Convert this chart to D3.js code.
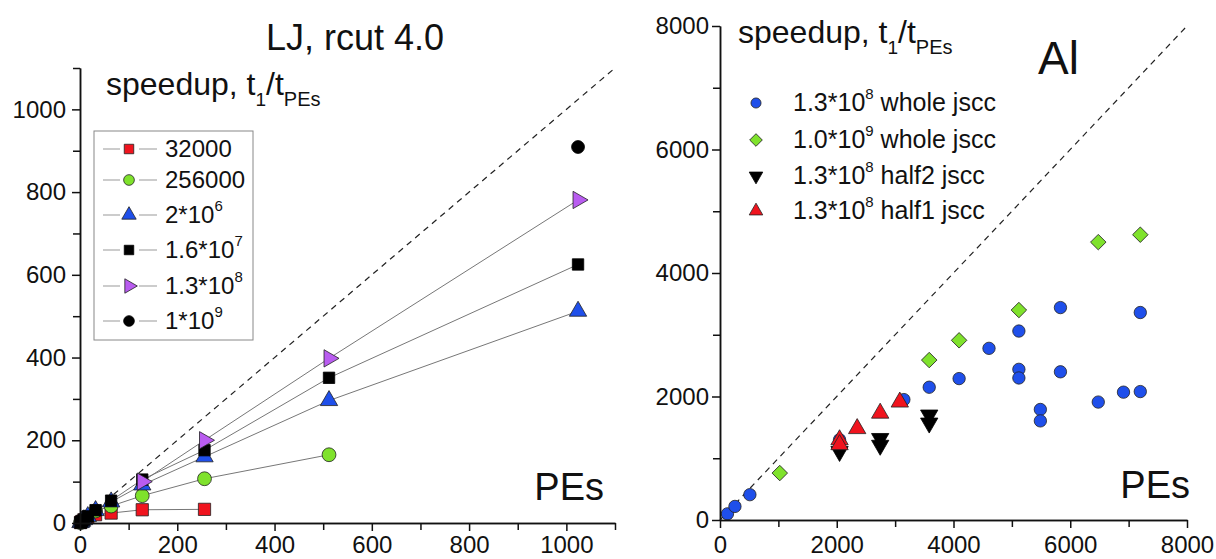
<!DOCTYPE html>
<html>
<head>
<meta charset="utf-8">
<script src="https://cdn.jsdelivr.net/npm/d3@7"></script>
<style>
  body { margin: 0; background: #fff; }
  svg { display: block; }
  text { font-family: Arial, "Liberation Sans", sans-serif; fill: #111; }
</style>
</head>
<body>
<svg id="chart" width="1216" height="559"></svg>
<script>
// ---------- LJ panel data (speedup vs number of PEs) ----------
const ljPEs      = [1, 2, 4, 8, 16, 32, 64, 128, 256, 512, 1024];
const lj32000    = [1, 2, 3.9, 7.6, 14, 20, 24, 32, 33];
const lj256000   = [1, 2, 4, 7.8, 15, 29, 41, 66, 107, 165];
const lj2e6      = [1, 2, 4, 8, 15.5, 30, 51, 92, 160, 296, 512];
const lj16e7     = [1, 2, 4, 8, 16, 31, 54, 105, 176, 351, 625];
const lj13e8PEs  = [128, 256, 512, 1024];
const lj13e8     = [100, 200, 398, 781];
const lj1e9PEs   = [1024];
const lj1e9      = [909];
const ljLabels   = [["32000", ""], ["256000", ""], ["2*10", "6"], ["1.6*10", "7"], ["1.3*10", "8"], ["1*10", "9"]];
const ljTicks    = [0, 200, 400, 600, 800, 1000];
const ljMinor    = [100, 300, 500, 700, 900, 1100];

// ---------- Al panel data ----------
const alWhole13e8PEs = [128, 256, 512, 2048, 3150, 3584, 4096, 4608, 5120, 5120, 5120, 5488, 5488, 5832, 5832, 6480, 6912, 7200, 7200];
const alWhole13e8    = [100, 220, 410, 1300, 1950, 2150, 2290, 2780, 3060, 2440, 2300, 1790, 1605, 3440, 2400, 1910, 2070, 3360, 2080];
const alWhole1e9PEs  = [1024, 3584, 4096, 5120, 6480, 7200];
const alWhole1e9     = [760, 2590, 2910, 3400, 4500, 4620];
const alHalf2PEs     = [2048, 2744, 2744, 3584, 3584];
const alHalf2        = [1110, 1320, 1210, 1700, 1570];
const alHalf1PEs     = [2048, 2048, 2350, 2744, 3080];
const alHalf1        = [1300, 1220, 1480, 1730, 1910];
const alLabels       = [["1.3*10", "8", " whole jscc"], ["1.0*10", "9", " whole jscc"], ["1.3*10", "8", " half2 jscc"], ["1.3*10", "8", " half1 jscc"]];
const alTicks        = [0, 2000, 4000, 6000, 8000];
const alMinor        = [1000, 3000, 5000, 7000];

const RED = "#f0141e", GREEN = "#7fe22c", BLUE = "#1f4fea", VIOLET = "#b95cf0", BLACK = "#000";

const svg = d3.select("#chart");

function zip(xs, ys) { return ys.map((y, i) => [xs[i], y]); }

// marker drawing: shape name -> d3 symbol + rotation
function marker(g, shape, x, y, size, fill) {
  const types = {
    square: [d3.symbolSquare, 0], circle: [d3.symbolCircle, 0],
    up: [d3.symbolTriangle, 0], down: [d3.symbolTriangle, 180],
    right: [d3.symbolTriangle, 90], diamond: [d3.symbolSquare, 45]
  };
  const [t, rot] = types[shape];
  g.append("path")
    .attr("d", d3.symbol().type(t).size(size)())
    .attr("transform", `translate(${x},${y}) rotate(${rot})`)
    .attr("fill", fill)
    .attr("stroke", fill === BLACK ? BLACK : "#222")
    .attr("stroke-width", 0.8);
}

function drawAxes(g, x, y, ticks, minor, yTicks, yMinor, padX, padY) {
  const fmt = d => String(d);
  g.append("g").attr("transform", `translate(0,${y.range()[0]})`)
    .call(d3.axisBottom(x).tickValues(ticks).tickFormat(fmt).tickSize(8).tickPadding(padX).tickSizeOuter(0));
  g.append("g").attr("transform", `translate(0,${y.range()[0]})`)
    .call(d3.axisBottom(x).tickValues(minor).tickFormat("").tickSize(7).tickSizeOuter(0));
  g.append("g").attr("transform", `translate(${x.range()[0]},0)`)
    .call(d3.axisLeft(y).tickValues(yTicks).tickFormat(fmt).tickSize(8).tickPadding(padY).tickSizeOuter(0));
  g.append("g").attr("transform", `translate(${x.range()[0]},0)`)
    .call(d3.axisLeft(y).tickValues(yMinor).tickFormat("").tickSize(7).tickSizeOuter(0));
  g.selectAll(".domain, .tick line").attr("stroke", "#111").attr("stroke-width", 1.5);
  g.selectAll(".tick text").attr("font-size", 24).attr("fill", "#111")
    .style("font-family", "Arial, 'Liberation Sans', sans-serif");
}

// speedup label with sub-scripts: speedup, t_1/t_PEs
function speedupLabel(g, x, y) {
  const t = g.append("text").attr("x", x).attr("y", y).attr("font-size", 32);
  t.append("tspan").text("speedup, t");
  t.append("tspan").attr("font-size", 19).attr("dy", 11).text("1");
  t.append("tspan").attr("dy", -11).text("/t");
  t.append("tspan").attr("font-size", 20).attr("dy", 11).text("PEs");
}

// ================= LJ panel =================
const xL = d3.scaleLinear().domain([0, 1100]).range([80, 615]);
const yL = d3.scaleLinear().domain([0, 1100]).range([523, 68]);
const gL = svg.append("g");

gL.append("line")
  .attr("x1", xL(0)).attr("y1", yL(0)).attr("x2", xL(1100)).attr("y2", yL(1100))
  .attr("stroke", "#222").attr("stroke-width", 1.2).attr("stroke-dasharray", "6,5");

const ljSeries = [
  { pts: zip(ljPEs, lj32000),  shape: "square", fill: RED,    size: 150 },
  { pts: zip(ljPEs, lj256000), shape: "circle", fill: GREEN,  size: 150 },
  { pts: zip(ljPEs, lj2e6),    shape: "up",     fill: BLUE,   size: 130 },
  { pts: zip(ljPEs, lj16e7),   shape: "square", fill: BLACK,  size: 130 },
  { pts: zip(lj13e8PEs, lj13e8), shape: "right", fill: VIOLET, size: 130 },
  { pts: zip(lj1e9PEs, lj1e9), shape: "circle", fill: BLACK,  size: 130 }
];
const line = d3.line().x(d => xL(d[0])).y(d => yL(d[1]));
ljSeries.forEach(s => {
  if (s.pts.length > 1)
    gL.append("path").attr("d", line(s.pts)).attr("fill", "none")
      .attr("stroke", "#777").attr("stroke-width", 1);
});
ljSeries.forEach(s => s.pts.forEach(p => marker(gL, s.shape, xL(p[0]), yL(p[1]), s.size, s.fill)));

drawAxes(gL, xL, yL, ljTicks, ljMinor, ljTicks, ljMinor, 5, 6);

gL.append("text").attr("x", 355).attr("y", 50).attr("text-anchor", "middle")
  .attr("font-size", 36).text("LJ, rcut 4.0");
speedupLabel(gL, 106, 95);
gL.append("text").attr("x", 604).attr("y", 500).attr("text-anchor", "end")
  .attr("font-size", 38).text("PEs");

// legend
const legL = gL.append("g");
legL.append("rect").attr("x", 94).attr("y", 131).attr("width", 159).attr("height", 209)
  .attr("fill", "#fff").attr("stroke", "#888").attr("stroke-width", 1);
const legRows = [149, 180, 215, 250, 286, 321];
ljSeries.forEach((s, i) => {
  const y = legRows[i];
  legL.append("line").attr("x1", 103).attr("x2", 120).attr("y1", y).attr("y2", y).attr("stroke", "#999");
  legL.append("line").attr("x1", 139).attr("x2", 157).attr("y1", y).attr("y2", y).attr("stroke", "#999");
  marker(legL, s.shape, 129, y, 90, s.fill);
  const t = legL.append("text").attr("x", 165).attr("y", y + 8).attr("font-size", 24);
  t.append("tspan").text(ljLabels[i][0]);
  if (ljLabels[i][1]) t.append("tspan").attr("font-size", 15).attr("dy", -12).text(ljLabels[i][1]);
});

// ================= Al panel =================
const xR = d3.scaleLinear().domain([0, 8000]).range([720, 1187]);
const yR = d3.scaleLinear().domain([0, 8000]).range([520, 26]);
const gR = svg.append("g");

gR.append("line")
  .attr("x1", xR(0)).attr("y1", yR(0)).attr("x2", xR(8000)).attr("y2", yR(8000))
  .attr("stroke", "#222").attr("stroke-width", 1.2).attr("stroke-dasharray", "6,5");

const alSeries = [
  { pts: zip(alWhole13e8PEs, alWhole13e8), shape: "circle",  fill: BLUE,  size: 120 },
  { pts: zip(alWhole1e9PEs, alWhole1e9),   shape: "diamond", fill: GREEN, size: 120 },
  { pts: zip(alHalf2PEs, alHalf2),         shape: "down",    fill: BLACK, size: 130 },
  { pts: zip(alHalf1PEs, alHalf1),         shape: "up",      fill: RED,   size: 130 }
];
alSeries.forEach(s => s.pts.forEach(p => marker(gR, s.shape, xR(p[0]), yR(p[1]), s.size, s.fill)));

drawAxes(gR, xR, yR, alTicks, alMinor, alTicks, alMinor, 8, 3);

speedupLabel(gR, 738, 43);
gR.append("text").attr("x", 1038).attr("y", 74).attr("font-size", 46).attr("fill", "#222").text("Al");
gR.append("text").attr("x", 1190).attr("y", 498).attr("text-anchor", "end")
  .attr("font-size", 38).text("PEs");

const alRows = [103, 140, 176, 211];
alSeries.forEach((s, i) => {
  const y = alRows[i];
  marker(gR, s.shape, 756, y, 80, s.fill);
  const t = gR.append("text").attr("x", 793).attr("y", y + 8).attr("font-size", 25);
  t.append("tspan").text(alLabels[i][0]);
  t.append("tspan").attr("font-size", 15).attr("dy", -12).text(alLabels[i][1]);
  t.append("tspan").attr("dy", 12).text(alLabels[i][2]);
});
</script>
</body>
</html>
